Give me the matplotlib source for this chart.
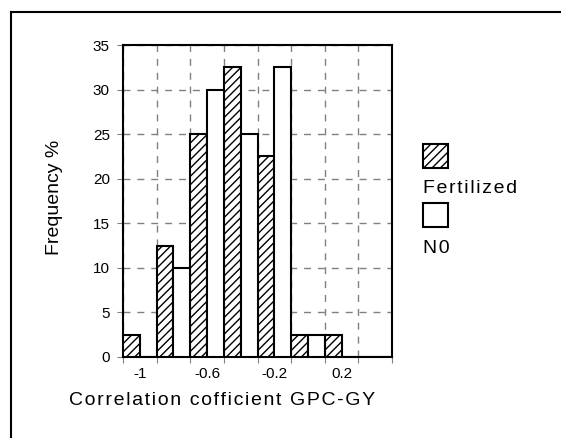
import numpy as np
import matplotlib
matplotlib.use("Agg")
import matplotlib.pyplot as plt
from matplotlib.lines import Line2D
from matplotlib.patches import Rectangle

plt.rcParams["font.family"] = ["Liberation Sans", "DejaVu Sans"]
plt.rcParams["hatch.linewidth"] = 1.0

# correlation classes (class centres) and frequencies (%)
bins = [-1.0, -0.8, -0.6, -0.4, -0.2, 0.0, 0.2, 0.4]
fertilized = [2.5, 12.5, 25, 32.5, 22.5, 2.5, 2.5, 0]
n0 = [0, 10, 30, 25, 32.5, 2.5, 0, 0]
tick_pos = [-1.0, -0.6, -0.2, 0.2]
tick_labels = ["-1", "-0.6", "-0.2", "0.2"]


def track(s):
    # widen letter spacing a little, like the original
    return "\u200a".join(s)


W, H = 561, 438
fig = plt.figure(figsize=(W / 100, H / 100), dpi=100)
ax = fig.add_axes([123 / W, 1 - 357 / H, (392 - 123) / W, (357 - 45) / H])

half = 0.1
ax.bar([b - half for b in bins], fertilized, width=half, align="edge",
       color="white", edgecolor="black", hatch="////", linewidth=1.5, zorder=3)
ax.bar(bins, n0, width=half, align="edge",
       color="white", edgecolor="black", linewidth=1.5, zorder=3)

ax.set_xlim(-1.1, 0.5)
ax.set_ylim(0, 35)
ax.set_xticks(np.round(np.arange(-1.1, 0.51, 0.2), 2))
ax.set_xticklabels([])
ax.set_xticks(tick_pos, minor=True)
ax.set_xticklabels(tick_labels, minor=True)
ax.set_yticks(range(0, 36, 5))
ax.tick_params(axis="both", which="major", length=4, color="gray", labelsize=11)
ax.tick_params(axis="y", which="major", pad=5.5)
ax.tick_params(axis="x", which="minor", length=0, labelsize=11, pad=7)
ax.grid(True, which="major", linestyle=(0, (5, 5)), color="gray", linewidth=1, zorder=0)
for s in ax.spines.values():
    s.set_linewidth(1.5)

ax.set_xlabel(track("Correlation cofficient GPC-GY"), fontsize=14, va="baseline")
ax.xaxis.set_label_coords(0.368, -0.154)
ax.set_ylabel("Frequency %", fontsize=14, va="center")
ax.yaxis.set_label_coords(-0.253, 0.513)

# legend
fig.patches.append(Rectangle((423 / W, 1 - 168 / H), 25 / W, 24 / H, transform=fig.transFigure,
                             facecolor="white", edgecolor="black", hatch="////", linewidth=1.5))
fig.text(423 / W, 1 - 193 / H, track("Fertilized"), fontsize=14, va="baseline")
fig.patches.append(Rectangle((423 / W, 1 - 227 / H), 25 / W, 24 / H, transform=fig.transFigure,
                             facecolor="white", edgecolor="black", linewidth=1.5))
fig.text(423 / W, 1 - 253 / H, track("N0"), fontsize=14, va="baseline")

# outer frame
fig.lines.append(Line2D([11 / W, 1.0], [1 - 12 / H, 1 - 12 / H], transform=fig.transFigure,
                        color="black", linewidth=1.5))
fig.lines.append(Line2D([11 / W, 11 / W], [1 - 12 / H, 0.0], transform=fig.transFigure,
                        color="black", linewidth=1.5))

fig.savefig("out.png", dpi=100)
